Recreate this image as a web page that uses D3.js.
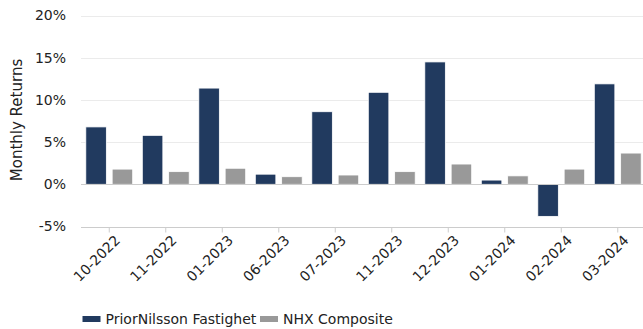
<!DOCTYPE html>
<html>
<head>
<meta charset="utf-8">
<script src="https://cdn.jsdelivr.net/npm/d3@7"></script>
<style>
  html, body { margin: 0; padding: 0; background: #fff; }
  svg { display: block; font-family: "DejaVu Sans", Verdana, sans-serif; }
</style>
</head>
<body>
<svg id="chart" width="643" height="329"></svg>
<script>
// Monthly returns, in percent
const categories = ["10-2022", "11-2022", "01-2023", "06-2023", "07-2023",
                    "11-2023", "12-2023", "01-2024", "02-2024", "03-2024"];
const seriesNames = ["PriorNilsson Fastighet", "NHX Composite"];
const fundReturns = [6.8, 5.8, 11.4, 1.2, 8.6, 10.9, 14.5, 0.5, -3.8, 11.9];
const indexReturns = [1.8, 1.5, 1.9, 0.9, 1.1, 1.5, 2.4, 1.0, 1.8, 3.7];
const yTicks = [-5, 0, 5, 10, 15, 20];
const colors = ["#213a5f", "#999999"];

const svg = d3.select("#chart");
const plotLeft = 81, plotRight = 646, plotTop = 15.5, plotBottom = 226.5;

const x = d3.scaleBand().domain(categories).range([plotLeft, plotRight])
  .paddingInner(0.17).paddingOuter(0.085);
const xs = d3.scaleBand().domain([0, 1]).range([0, x.bandwidth()])
  .paddingInner(0.22).paddingOuter(0);
const y = d3.scaleLinear().domain([-5, 20]).range([plotBottom, plotTop]);

// horizontal grid
svg.append("g")
  .selectAll("line").data(yTicks.filter(d => d !== -5 && d !== 0)).join("line")
  .attr("x1", plotLeft).attr("x2", 643)
  .attr("y1", d => Math.round(y(d)) + 0.5).attr("y2", d => Math.round(y(d)) + 0.5)
  .attr("stroke", "#ebebeb").attr("stroke-width", 1);

// y tick labels
svg.append("g")
  .selectAll("text").data(yTicks).join("text")
  .attr("x", 66).attr("y", d => y(d)).attr("dy", "0.35em")
  .attr("text-anchor", "end").attr("font-size", 14).attr("fill", "#222")
  .text(d => d + "%");

// y axis title
svg.append("text")
  .attr("transform", "translate(22,120) rotate(-90)")
  .attr("text-anchor", "middle").attr("font-size", 15).attr("fill", "#222")
  .text("Monthly Returns");

// bars
const rows = categories.map((c, i) => ({ c, vals: [fundReturns[i], indexReturns[i]] }));
const groups = svg.append("g").selectAll("g").data(rows).join("g")
  .attr("transform", d => `translate(${x(d.c)},0)`);
groups.selectAll("rect").data(d => d.vals.map((v, k) => ({ v, k }))).join("rect")
  .attr("x", d => xs(d.k))
  .attr("width", xs.bandwidth())
  .attr("y", d => y(Math.max(0, d.v)))
  .attr("height", d => Math.abs(y(d.v) - y(0)))
  .attr("fill", d => colors[d.k])
  .attr("stroke", "#ffffff").attr("stroke-width", 0.8);

// zero line
svg.append("line")
  .attr("x1", plotLeft).attr("x2", 643)
  .attr("y1", Math.round(y(0)) + 0.5).attr("y2", Math.round(y(0)) + 0.5)
  .attr("stroke", "#cccccc").attr("stroke-width", 1);

// x axis
const xAxis = svg.append("g")
  .attr("transform", `translate(0,${Math.round(plotBottom) + 0.5})`)
  .call(d3.axisBottom(x).tickSize(5).tickSizeOuter(0));
xAxis.select(".domain").attr("stroke", "#cccccc").attr("d", `M${plotLeft},0H643`);
xAxis.selectAll(".tick line").attr("stroke", "#cccccc");
xAxis.selectAll(".tick text")
  .attr("font-family", "DejaVu Sans, Verdana, sans-serif")
  .attr("font-size", 14).attr("fill", "#222")
  .attr("text-anchor", "end")
  .attr("transform", "translate(4,6) rotate(-45)")
  .attr("dy", "0.35em").attr("y", 6).attr("x", 0);

// legend
const legendX = [82.5, 260];
const legend = svg.append("g").selectAll("g").data(seriesNames).join("g")
  .attr("transform", (d, i) => `translate(${legendX[i]},319)`);
legend.append("rect").attr("x", 0).attr("y", -3).attr("width", 18).attr("height", 6)
  .attr("fill", (d, i) => colors[i]);
legend.append("text").attr("x", 23).attr("dy", "0.35em")
  .attr("font-size", 14).attr("fill", "#222").text(d => d);
</script>
</body>
</html>
